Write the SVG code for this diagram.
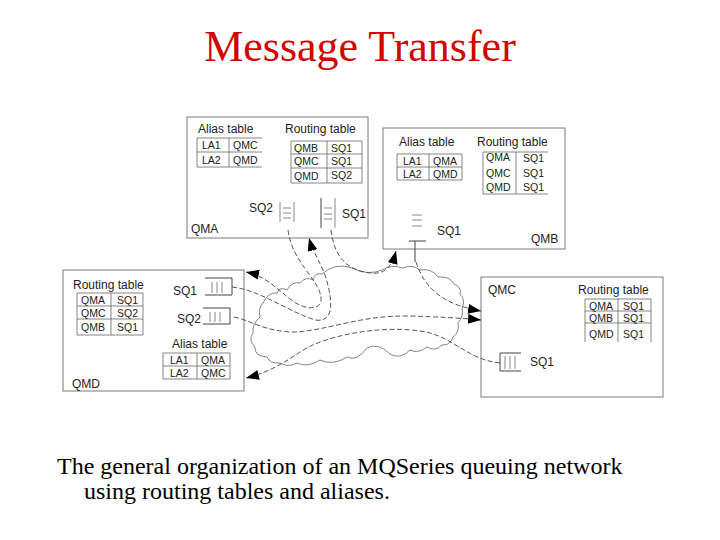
<svg xmlns="http://www.w3.org/2000/svg" width="720" height="540" viewBox="0 0 720 540">
<style>
.box{fill:#fff;stroke:#7a7a7a;stroke-width:1}
.lbl{font-family:"Liberation Sans",Arial,sans-serif;font-size:12px;fill:#222}
.cell{font-family:"Liberation Sans",Arial,sans-serif;font-size:10.5px;fill:#222}
.tb{fill:none;stroke:#666;stroke-width:0.8}
.q{fill:none;stroke:#888;stroke-width:1}
.qd{fill:none;stroke:#444;stroke-width:1}
.cloud{fill:none;stroke:#666;stroke-width:0.8}
.con{fill:none;stroke:#444;stroke-width:0.9;stroke-dasharray:5 2.5}
</style>
<defs>
<marker id="ah" markerUnits="userSpaceOnUse" markerWidth="14" markerHeight="12" refX="13" refY="5" orient="auto">
<path d="M0,0 L13,5 L0,10 Z" fill="#000"/>
</marker>
</defs>
<rect width="720" height="540" fill="#fff"/>
<text x="360" y="61" text-anchor="middle" font-family="'Liberation Serif','Times New Roman',serif" font-size="44" fill="#d40000">Message Transfer</text>

<g id="QMA">
<rect class="box" x="187" y="117" width="181" height="121"/>
<text class="lbl" x="198" y="133">Alias table</text>
<path class="tb" d="M197,138 H262 M197,152 H262 M197,167 H262 M197,138 V167 M229,138 V167"/>
<text class="cell" x="202" y="149">LA1</text><text class="cell" x="233" y="149">QMC</text>
<text class="cell" x="202" y="164">LA2</text><text class="cell" x="233" y="164">QMD</text>
<text class="lbl" x="285" y="133">Routing table</text>
<path class="tb" d="M291,141 H362 M291,154 H362 M291,168 H362 M291,183 H362 M291,141 V183 M327,141 V183 M362,141 V183"/>
<text class="cell" x="294" y="152">QMB</text><text class="cell" x="331" y="152">SQ1</text>
<text class="cell" x="294" y="165">QMC</text><text class="cell" x="331" y="165">SQ1</text>
<text class="cell" x="294" y="180">QMD</text><text class="cell" x="331" y="179">SQ2</text>
<text class="lbl" x="249" y="212">SQ2</text>
<path class="q" d="M280,202 V222 M294,202 V222 M283,208 H291 M283,213 H291 M283,218 H291"/>
<path class="qd" d="M321,198 V228"/>
<path class="q" d="M335,198 V228 M324,208 H332 M324,214 H332 M324,219 H332"/>
<text class="lbl" x="342" y="218">SQ1</text>
<text class="lbl" x="191" y="233">QMA</text>
</g>

<g id="QMB">
<rect class="box" x="383" y="128" width="182" height="121"/>
<text class="lbl" x="399" y="146">Alias table</text>
<path class="tb" d="M397,154 H462 M397,167 H462 M397,180 H462 M397,154 V180 M429,154 V180 M462,154 V180"/>
<text class="cell" x="403" y="165">LA1</text><text class="cell" x="433" y="165">QMA</text>
<text class="cell" x="403" y="178">LA2</text><text class="cell" x="433" y="178">QMD</text>
<text class="lbl" x="477" y="146">Routing table</text>
<path class="tb" d="M483,152 H548 M483,194 H548 M483,152 V194 M516,152 V194"/>
<text class="cell" x="486" y="161">QMA</text><text class="cell" x="523" y="162">SQ1</text>
<text class="cell" x="486" y="177">QMC</text><text class="cell" x="523" y="177">SQ1</text>
<text class="cell" x="486" y="191">QMD</text><text class="cell" x="523" y="191">SQ1</text>
<path class="q" d="M412,215 H422 M412,220 H422 M412,226 H422"/>
<path class="qd" d="M409,241 H426 M415,241 V262"/>
<text class="lbl" x="437" y="235">SQ1</text>
<text class="lbl" x="531" y="243">QMB</text>
</g>

<g id="QMD">
<rect class="box" x="63" y="270" width="181" height="121"/>
<text class="lbl" x="73" y="289">Routing table</text>
<path class="tb" d="M77,293 H143 M77,306 H143 M77,319 H143 M77,335 H143 M77,293 V335 M111,293 V335 M143,293 V335"/>
<text class="cell" x="81" y="304">QMA</text><text class="cell" x="117" y="304">SQ1</text>
<text class="cell" x="81" y="317">QMC</text><text class="cell" x="117" y="317">SQ2</text>
<text class="cell" x="81" y="331">QMB</text><text class="cell" x="117" y="331">SQ1</text>
<text class="lbl" x="173" y="295">SQ1</text>
<path class="qd" d="M205,278 H232 V295 H205"/>
<path class="q" d="M212,282 V293 M217,282 V293 M222,282 V293"/>
<text class="lbl" x="177" y="323">SQ2</text>
<path class="qd" d="M203,308 H230 V324 H203"/>
<path class="q" d="M210,312 V322 M215,312 V322 M220,312 V322"/>
<text class="lbl" x="172" y="348">Alias table</text>
<path class="tb" d="M163,353 H230 M163,366 H230 M163,379 H230 M163,353 V379 M197,353 V379 M230,353 V379"/>
<text class="cell" x="170" y="364">LA1</text><text class="cell" x="201" y="364">QMA</text>
<text class="cell" x="170" y="377">LA2</text><text class="cell" x="201" y="377">QMC</text>
<text class="lbl" x="72" y="388">QMD</text>
</g>

<g id="QMC">
<rect class="box" x="481" y="277" width="182" height="120"/>
<text class="lbl" x="488" y="294">QMC</text>
<text class="lbl" x="578" y="294">Routing table</text>
<path class="tb" d="M585,299 H651 M585,311 H651 M585,323 H651 M585,299 V342 M618,299 V342 M651,299 V342"/>
<text class="cell" x="589" y="310">QMA</text><text class="cell" x="623" y="310">SQ1</text>
<text class="cell" x="589" y="322">QMB</text><text class="cell" x="623" y="322">SQ1</text>
<text class="cell" x="589" y="338">QMD</text><text class="cell" x="623" y="338">SQ1</text>
<path class="qd" d="M521,353 H500 V371 H521"/>
<path class="q" d="M505,356 V369 M510,356 V369 M515,356 V369"/>
<text class="lbl" x="530" y="366">SQ1</text>
</g>

<g id="network">
<path class="cloud" d="M322,274 Q335,262 352,268 Q368,276 382,270 Q392,264 403,268 Q412,264 420,270 Q432,268 438,277 Q450,276 454,284 Q462,287 460,294 Q466,300 462,308 Q464,316 458,323 Q460,332 453,337 Q450,346 442,345 Q435,352 427,347 Q418,354 410,350 Q400,360 390,354 Q378,342 367,348 Q357,362 347,357 Q333,366 320,360 Q308,368 297,363 Q288,368 280,363 Q270,364 267,357 Q254,356 255,347 Q248,340 253,333 Q252,324 260,317 Q258,308 263,303 Q268,292 277,293 Q280,286 287,290 Q292,281 300,283 Q306,276 313,280 Q315,272 322,274 Z"/>
</g>

<g id="connectors">
<path class="con" marker-end="url(#ah)" d="M331,230 C334,255 345,270 370,273 C385,275 392,266 396,251"/>
<path class="con" marker-end="url(#ah)" d="M288,230 C292,262 318,278 321,297 C323,311 305,311 290,299 C275,287 265,276 246,272"/>
<path class="con" marker-end="url(#ah)" d="M416,262 C425,290 445,305 481,311"/>
<path class="con" marker-end="url(#ah)" d="M500,363 C470,360 455,340 430,333 C395,324 330,332 300,352 C285,362 270,372 246,378"/>
<path class="con" marker-end="url(#ah)" d="M232,287 C260,290 285,310 315,320 C335,323 333,300 325,275 C320,262 313,252 309,238"/>
<path class="con" marker-end="url(#ah)" d="M234,317 C250,320 265,332 295,332 C330,330 360,315 410,316 C440,317 460,318 481,320"/>
</g>

<text font-family="'Liberation Serif','Times New Roman',serif" font-size="24" fill="#000"><tspan x="57" y="474">The general organization of an MQSeries queuing network</tspan><tspan x="84" y="499">using routing tables and aliases.</tspan></text>
</svg>
